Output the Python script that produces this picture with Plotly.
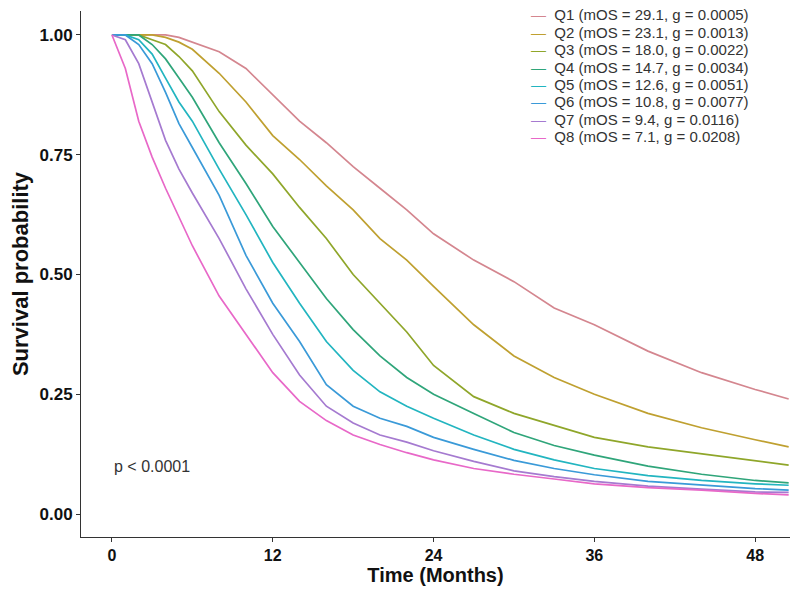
import plotly.graph_objects as go

TIME = [0, 1, 2, 3, 4, 5, 6, 8, 10, 12, 14, 16, 18, 20, 22, 24, 27, 30, 33, 36, 40, 44, 48, 50.5]

Q1 = [1, 1, 1, 1, 1, 0.995, 0.985, 0.965, 0.93, 0.875, 0.82, 0.775, 0.725, 0.68, 0.635, 0.585, 0.53, 0.485, 0.43, 0.395, 0.34, 0.295, 0.26, 0.24]
Q2 = [1, 1, 1, 1, 0.995, 0.985, 0.97, 0.92, 0.86, 0.79, 0.74, 0.685, 0.635, 0.575, 0.53, 0.475, 0.395, 0.33, 0.285, 0.25, 0.21, 0.18, 0.155, 0.14]
Q3 = [1, 1, 1, 0.99, 0.98, 0.955, 0.925, 0.84, 0.77, 0.71, 0.64, 0.575, 0.5, 0.44, 0.38, 0.31, 0.245, 0.21, 0.185, 0.16, 0.14, 0.125, 0.11, 0.102]
Q4 = [1, 1, 1, 0.98, 0.95, 0.91, 0.87, 0.775, 0.69, 0.6, 0.525, 0.45, 0.385, 0.33, 0.285, 0.25, 0.21, 0.17, 0.143, 0.123, 0.1, 0.083, 0.07, 0.065]
Q5 = [1, 1, 0.99, 0.96, 0.91, 0.86, 0.82, 0.72, 0.625, 0.525, 0.44, 0.36, 0.30, 0.255, 0.225, 0.2, 0.165, 0.135, 0.113, 0.095, 0.08, 0.07, 0.063, 0.06]
Q6 = [1, 1, 0.98, 0.94, 0.88, 0.815, 0.765, 0.665, 0.54, 0.44, 0.36, 0.27, 0.225, 0.2, 0.183, 0.16, 0.135, 0.112, 0.095, 0.082, 0.068, 0.06, 0.053, 0.05]
Q7 = [1, 0.99, 0.94, 0.86, 0.78, 0.72, 0.67, 0.575, 0.47, 0.375, 0.29, 0.225, 0.19, 0.165, 0.15, 0.132, 0.11, 0.09, 0.078, 0.068, 0.058, 0.052, 0.046, 0.045]
Q8 = [1, 0.93, 0.82, 0.745, 0.68, 0.62, 0.56, 0.455, 0.375, 0.295, 0.235, 0.195, 0.165, 0.145, 0.128, 0.113, 0.095, 0.083, 0.073, 0.063, 0.055, 0.05, 0.043, 0.04]

LABELS = [
    "Q1 (mOS = 29.1, g = 0.0005)",
    "Q2 (mOS = 23.1, g = 0.0013)",
    "Q3 (mOS = 18.0, g = 0.0022)",
    "Q4 (mOS = 14.7, g = 0.0034)",
    "Q5 (mOS = 12.6, g = 0.0051)",
    "Q6 (mOS = 10.8, g = 0.0077)",
    "Q7 (mOS = 9.4, g = 0.0116)",
    "Q8 (mOS = 7.1, g = 0.0208)",
]
SERIES = [Q1, Q2, Q3, Q4, Q5, Q6, Q7, Q8]
COLORS = ["#D4868F", "#BFA030", "#8FA62A", "#2FA57A", "#22B5C0", "#3A9AD8", "#A57AD0", "#E868C8"]

X_TICKS = [0, 12, 24, 36, 48]
Y_TICKS = [0, 0.25, 0.5, 0.75, 1.0]

FONT = "Liberation Sans, Arial, sans-serif"

fig = go.Figure()
for lab, ys, col in zip(LABELS, SERIES, COLORS):
    fig.add_trace(go.Scatter(x=TIME, y=ys, mode="lines", name=lab, showlegend=False,
                             line=dict(color=col, width=1.7)))

# Legend drawn as text entries (keeps the tight spacing of the original)
PLOT_TOP, PLOT_BOTTOM = 11, 537
for i, (lab, col) in enumerate(zip(LABELS, COLORS)):
    ypx = 15 + 17.4 * i
    fig.add_annotation(x=(529 - 81) / 709, y=(PLOT_BOTTOM - ypx) / (PLOT_BOTTOM - PLOT_TOP),
                       xref="paper", yref="paper", showarrow=False,
                       xanchor="left", yanchor="middle",
                       text=f'<span style="color:{col}">—</span>&nbsp;&nbsp;{lab}',
                       font=dict(family=FONT, size=15, color="#333333"))

fig.add_annotation(x=0, y=0.1, xref="x", yref="y", text="p < 0.0001",
                   showarrow=False, xanchor="left", yanchor="middle",
                   font=dict(family=FONT, size=16, color="#333333"))

axis_common = dict(showgrid=False, zeroline=False, showline=True,
                   linecolor="#333333", linewidth=1, ticks="outside",
                   ticklen=4, tickcolor="#333333")

fig.update_layout(
    width=798, height=589,
    margin=dict(l=81, r=8, t=11, b=52),
    paper_bgcolor="white", plot_bgcolor="white",
    showlegend=False,
    xaxis=dict(range=[-2.31, 50.6], tickvals=X_TICKS,
               tickfont=dict(family=FONT, size=16, color="#111111", weight="bold"),
               title=dict(text="Time (Months)", standoff=0,
                          font=dict(family=FONT, size=20, color="#111111", weight="bold")),
               **axis_common),
    yaxis=dict(range=[-0.048, 1.05], tickvals=Y_TICKS, tickformat=".2f",
               tickfont=dict(family=FONT, size=17, color="#111111", weight="bold"),
               title=dict(text="Survival probability", standoff=4,
                          font=dict(family=FONT, size=22, color="#111111", weight="bold")),
               **axis_common),
)

fig.write_html("out.html")
